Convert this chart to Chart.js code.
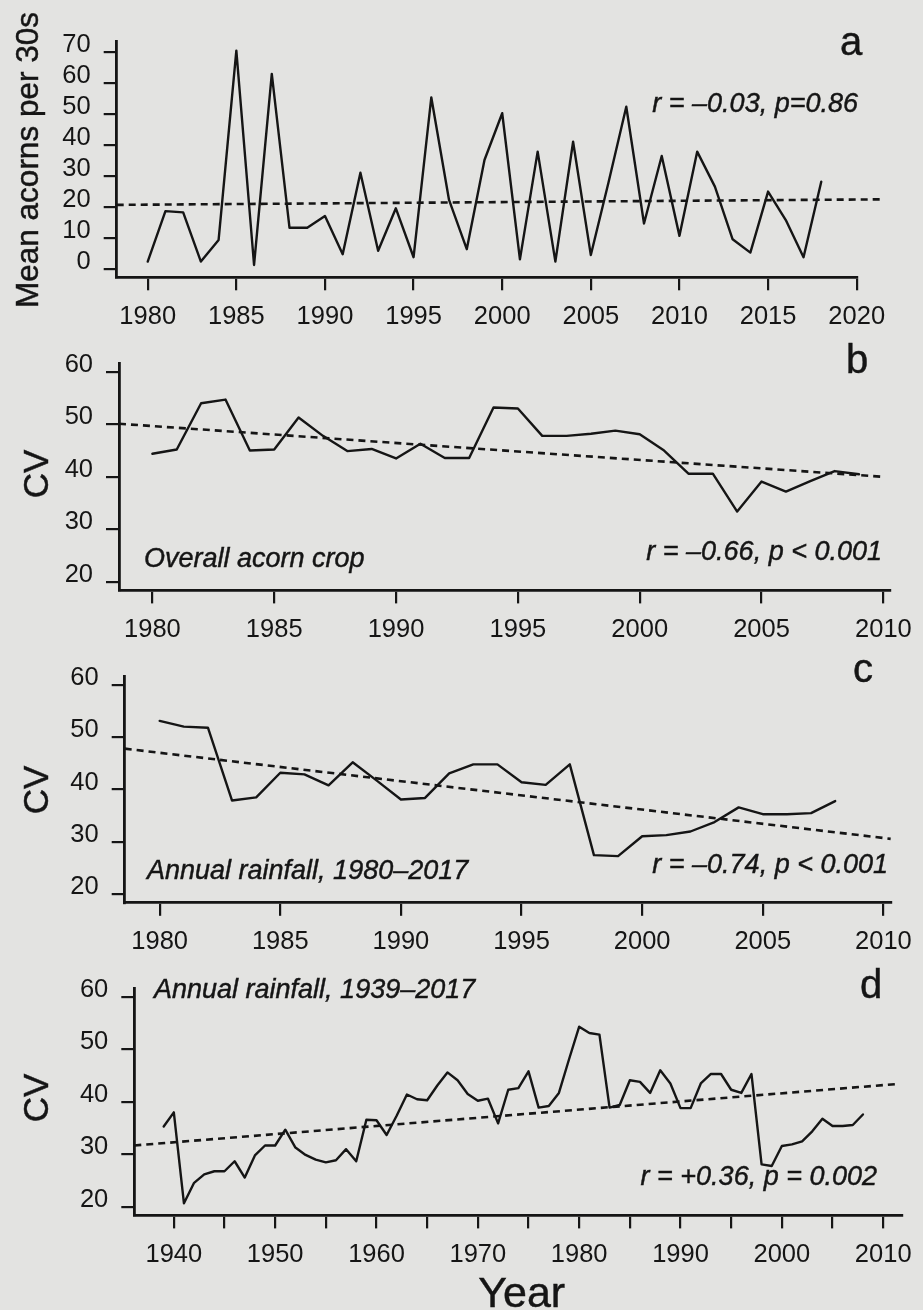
<!DOCTYPE html>
<html><head><meta charset="utf-8">
<script src="https://cdn.jsdelivr.net/npm/chart.js@4.4.1/dist/chart.umd.min.js"></script>
<style>
html,body{margin:0;padding:0;background:#e3e3e1;}
#wrap{position:relative;width:923px;height:1310px;overflow:hidden;background:#e3e3e1;}
canvas{position:absolute;left:0;}
svg{position:absolute;left:0;top:0;}
svg text{font-family:'Liberation Sans',Arial,Helvetica,sans-serif;fill:#151515;stroke:#151515;stroke-width:0.45px;}
.it{font-style:italic;font-size:27px;}
</style></head><body>
<div id="wrap">
<canvas id="ca" width="923" height="335" style="top:0px"></canvas>
<canvas id="cb" width="923" height="313" style="top:335px"></canvas>
<canvas id="cc" width="923" height="312" style="top:648px"></canvas>
<canvas id="cd" width="923" height="315" style="top:960px"></canvas>
<svg width="923" height="1310" viewBox="0 0 923 1310">
  <text transform="translate(38,160) rotate(-90)" text-anchor="middle" font-size="31.5">Mean acorns per 30s</text>
  <text transform="translate(47.5,474) rotate(-90)" text-anchor="middle" font-size="35">CV</text>
  <text transform="translate(47.5,790) rotate(-90)" text-anchor="middle" font-size="35">CV</text>
  <text transform="translate(47.5,1098) rotate(-90)" text-anchor="middle" font-size="35">CV</text>
  <text x="851" y="55" text-anchor="middle" font-size="40">a</text>
  <text x="857" y="373" text-anchor="middle" font-size="40">b</text>
  <text x="863" y="682" text-anchor="middle" font-size="40">c</text>
  <text x="871" y="998" text-anchor="middle" font-size="40">d</text>
  <text class="it" x="858" y="111.5" text-anchor="end">r = –0.03, p=0.86</text>
  <text class="it" x="144" y="567">Overall acorn crop</text>
  <text class="it" x="882" y="559.5" text-anchor="end">r = –0.66, p &lt; 0.001</text>
  <text class="it" x="147" y="879">Annual rainfall, 1980–2017</text>
  <text class="it" x="888" y="873" text-anchor="end">r = –0.74, p &lt; 0.001</text>
  <text class="it" x="154" y="998">Annual rainfall, 1939–2017</text>
  <text class="it" x="877" y="1185" text-anchor="end">r = +0.36, p = 0.002</text>
  <text x="521.7" y="1306.7" text-anchor="middle" font-size="43">Year</text>
</svg>
</div>
<script>
// ---------------- data ----------------
const yearsA = [1980,1981,1982,1983,1984,1985,1986,1987,1988,1989,1990,1991,1992,1993,1994,1995,1996,1997,1998,1999,2000,2001,2002,2003,2004,2005,2006,2007,2008,2009,2010,2011,2012,2013,2014,2015,2016,2017,2018];
const acornsA = [2.4,18.7,18.3,2.4,9.4,70.5,1.3,63,13.3,13.3,17.1,4.8,31.1,5.9,19.6,3.8,55.4,22.3,6.4,35.2,50.3,3.1,37.9,2.4,41.1,4.5,28,52.4,14.7,36.5,10.7,37.9,26.6,9.6,5.3,25,15.8,3.8,28.2];
const trendA = [[1978.25,20.7],[2021.5,22.5]];

const yearsB = [1980,1981,1982,1983,1984,1985,1986,1987,1988,1989,1990,1991,1992,1993,1994,1995,1996,1997,1998,1999,2000,2001,2002,2003,2004,2005,2006,2007,2008,2009];
const cvB = [44.4,45.2,54.0,54.7,45.0,45.2,51.3,47.8,44.9,45.3,43.5,46.3,43.6,43.6,53.2,53.0,47.8,47.8,48.2,48.8,48.1,45.0,40.6,40.6,33.4,39.1,37.2,39.2,41.1,40.5];
const trendB = [[1978.63,50.1],[2010,40.0]];

const yearsC = [1980,1981,1982,1983,1984,1985,1986,1987,1988,1989,1990,1991,1992,1993,1994,1995,1996,1997,1998,1999,2000,2001,2002,2003,2004,2005,2006,2007,2008];
const cvC = [53.1,52,51.8,37.9,38.5,43.2,42.9,40.8,45.2,41.7,38.1,38.4,43.1,44.8,44.8,41.4,40.9,44.8,27.5,27.3,31.1,31.3,32,33.8,36.6,35.3,35.3,35.5,37.8];
const trendC = [[1978.55,47.8],[2010.3,30.6]];

const yearsD = [1939,1940,1941,1942,1943,1944,1945,1946,1947,1948,1949,1950,1951,1952,1953,1954,1955,1956,1957,1958,1959,1960,1961,1962,1963,1964,1965,1966,1967,1968,1969,1970,1971,1972,1973,1974,1975,1976,1977,1978,1979,1980,1981,1982,1983,1984,1985,1986,1987,1988,1989,1990,1991,1992,1993,1994,1995,1996,1997,1998,1999,2000,2001,2002,2003,2004,2005,2006,2007,2008];
const cvD = [35.3,38,20.7,24.6,26.2,26.8,26.8,28.7,25.6,29.8,31.7,31.7,34.7,31.3,29.9,29,28.5,28.9,31,28.7,36.6,36.5,33.7,37.4,41.4,40.5,40.3,43.1,45.6,44.1,41.5,40.2,40.6,35.9,42.3,42.6,45.8,38.9,39.2,41.7,48.1,54.3,53.1,52.8,38.9,39.4,44.1,43.8,41.7,46,43.5,38.8,38.8,43.5,45.3,45.3,42.3,41.7,45.3,28.1,27.8,31.6,31.9,32.5,34.4,36.8,35.4,35.4,35.6,37.6];
const trendD = [[1936.1,31.7],[2011.4,43.4]];

const xTicksA = [1980,1985,1990,1995,2000,2005,2010,2015,2020];
const xTicksBC = [1980,1985,1990,1995,2000,2005,2010];
const xTicksD = [1940,1945,1950,1955,1960,1965,1970,1975,1980,1985,1990,1995,2000,2005,2010];
const xLabelsD = [1940,1950,1960,1970,1980,1990,2000,2010];
const yTicksA = [0,10,20,30,40,50,60,70];
const yTicksCV = [20,30,40,50,60];

// ---------------- drawing ----------------
const INK = '#151515';
Chart.defaults.font.family = "'Liberation Sans', Arial, Helvetica, sans-serif";
Chart.defaults.color = INK;

function panel(id, canvasTop, canvasH, area, xRange, yRange, xTicks, xLabels, yTicks, years, vals, trend) {
  const ctx = document.getElementById(id);
  return new Chart(ctx, {
    type: 'line',
    data: {
      datasets: [
        { data: years.map((yr, i) => ({ x: yr, y: vals[i] })), borderColor: INK, borderWidth: 2.4,
          pointRadius: 0, tension: 0, fill: false, borderJoinStyle: 'round', borderCapStyle: 'round' },
        { data: trend.map(p => ({ x: p[0], y: p[1] })), borderColor: INK, borderWidth: 2.6,
          borderDash: [7, 5], pointRadius: 0, fill: false, clip: false }
      ]
    },
    options: {
      responsive: false, animation: false, events: [],
      layout: { padding: { left: 0, top: area.top - canvasTop, right: 923 - area.right, bottom: 0 } },
      plugins: { legend: { display: false }, tooltip: { enabled: false } },
      scales: {
        x: {
          type: 'linear', min: xRange[0], max: xRange[1],
          afterBuildTicks: s => { s.ticks = xTicks.map(v => ({ value: v })); },
          afterFit: s => { s.height = canvasTop + canvasH - area.bottom; },
          grid: { display: true, drawOnChartArea: false, drawTicks: true, tickLength: 13, color: INK, lineWidth: 2.2 },
          border: { display: true, color: INK, width: 2.8 },
          ticks: { font: { size: 25.5 }, color: INK, padding: 11, maxRotation: 0, autoSkip: false,
                   callback: v => (xLabels.indexOf(v) >= 0 ? String(v) : '') }
        },
        y: {
          type: 'linear', min: yRange[0], max: yRange[1],
          afterBuildTicks: s => { s.ticks = yTicks.map(v => ({ value: v })); },
          afterFit: s => { s.width = area.left; },
          grid: { display: true, drawOnChartArea: false, drawTicks: true, tickLength: 13, color: INK, lineWidth: 2.2 },
          border: { display: true, color: INK, width: 2.8 },
          ticks: { font: { size: 25.5 }, color: INK, padding: 13, labelOffset: -7, autoSkip: false,
                   callback: v => String(v) }
        }
      }
    }
  });
}

panel('ca', 0, 335, { left: 116.7, top: 41.7, right: 856.7, bottom: 277.3 },
      [1978.25, 2020], [-2.68, 73.4], xTicksA, xTicksA, yTicksA, yearsA, acornsA, trendA);
panel('cb', 335, 313, { left: 119, top: 354.6, right: 893.3, bottom: 590.4 },
      [1978.63, 2010.27], [18.4, 61.6], xTicksBC, xTicksBC, yTicksCV, yearsB, cvB, trendB);
panel('cc', 648, 312, { left: 124.7, top: 666.2, right: 900.3, bottom: 902.8 },
      [1978.55, 2010.3], [18.4, 61.6], xTicksBC, xTicksBC, yTicksCV, yearsC, cvC, trendC);
panel('cd', 960, 315, { left: 134.3, top: 980.6, right: 905, bottom: 1215.4 },
      [1936.1, 2011.85], [18.4, 61.6], xTicksD, xLabelsD, yTicksCV, yearsD, cvD, trendD);
</script>
</body></html>
